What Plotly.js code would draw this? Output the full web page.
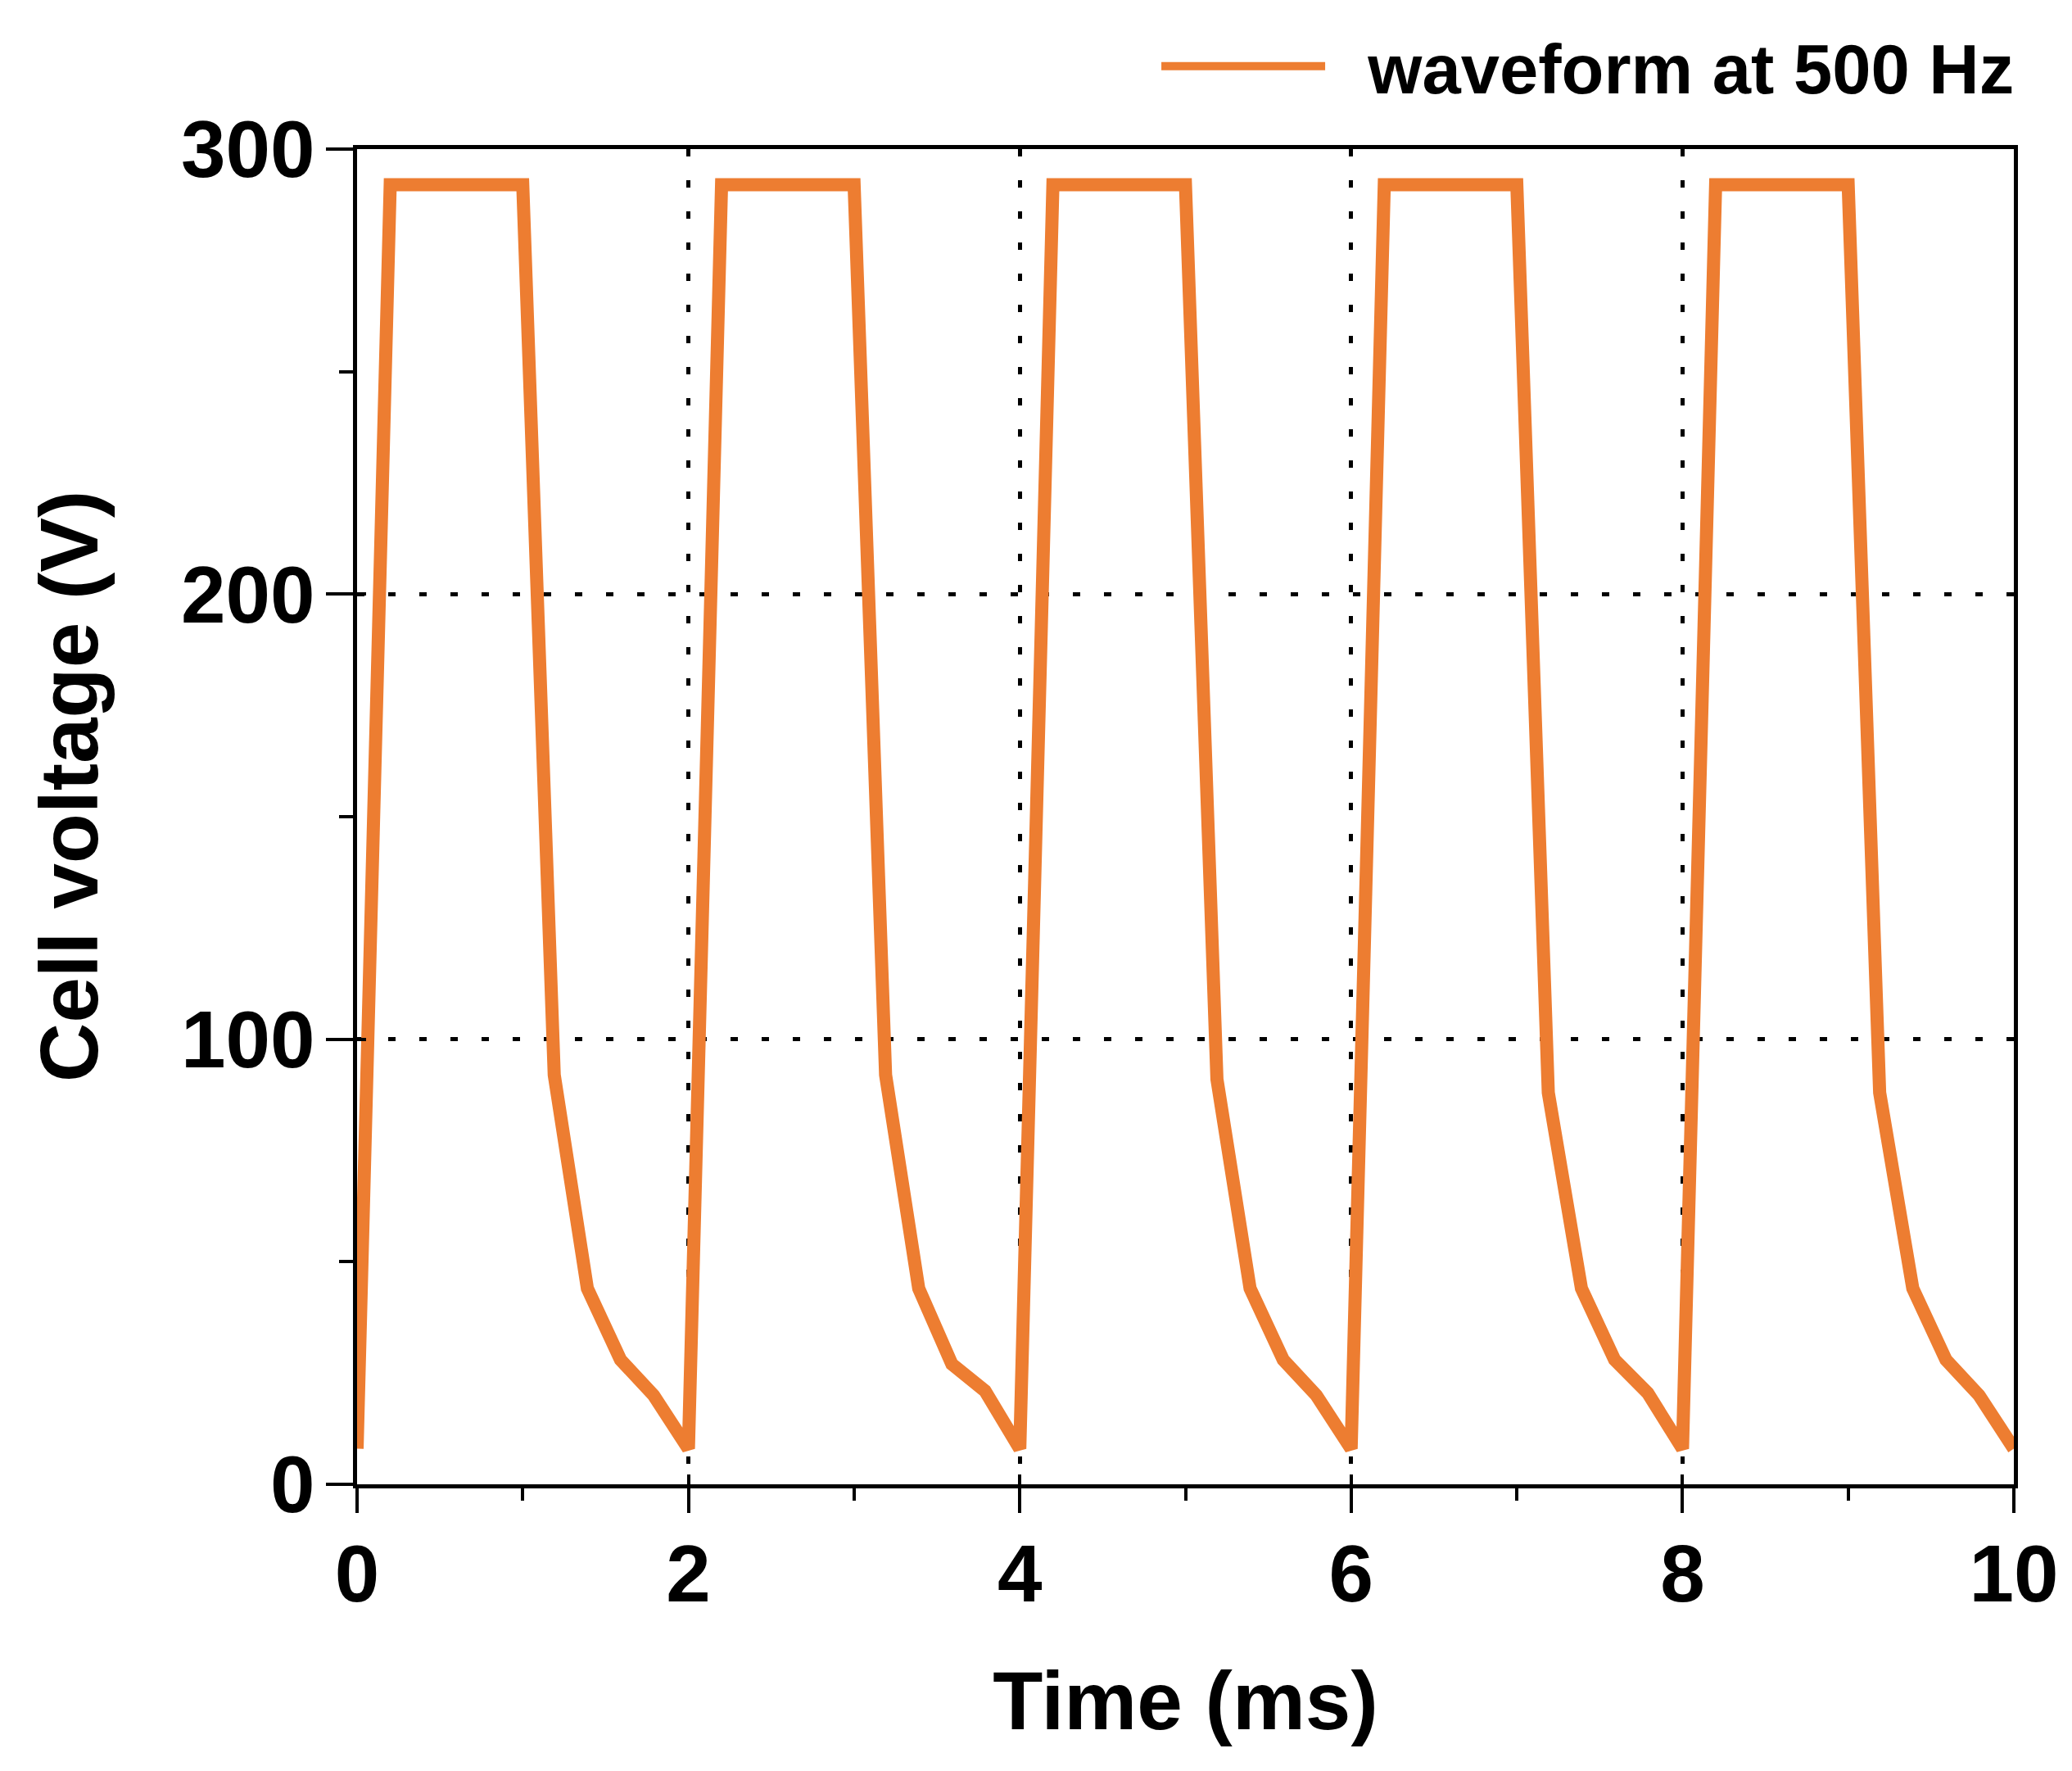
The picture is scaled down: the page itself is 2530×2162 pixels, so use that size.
<!DOCTYPE html>
<html>
<head>
<meta charset="utf-8">
<script src="https://cdn.plot.ly/plotly-3.0.1.min.js"></script>
<style>html,body{margin:0;padding:0;background:#fff;}#chart{width:2530px;height:2162px;}</style>
</head>
<body>
<div id="chart"></div>
<script>
// Time (ms) and cell voltage (V)
const timeMs = [0, 0.2, 1.0, 1.19, 1.39, 1.59, 1.79, 2.0,
                2.2, 3.0, 3.19, 3.39, 3.59, 3.79, 4.0,
                4.2, 5.0, 5.19, 5.39, 5.59, 5.79, 6.0,
                6.2, 7.0, 7.19, 7.39, 7.59, 7.79, 8.0,
                8.2, 9.0, 9.19, 9.39, 9.59, 9.79, 10.0];
const cellVoltage = [8, 292, 292, 92, 44, 28, 20, 8,
                     292, 292, 92, 44, 27, 21, 8,
                     292, 292, 91, 44, 28, 20, 8,
                     292, 292, 88, 44, 28, 20.5, 8,
                     292, 292, 88, 44, 28, 20, 8];
const seriesName = "waveform at 500 Hz";
const xTickVals = [0, 2, 4, 6, 8, 10];
const yTickVals = [0, 100, 200, 300];
const xTitle = "Time (ms)";
const yTitle = "Cell voltage (V)";

const FONT = "'Liberation Sans', Arial, sans-serif";
const ORANGE = "#ED7D31";

const traces = [
  {
    x: timeMs, y: cellVoltage, type: "scatter", mode: "lines",
    name: "\u00A0\u00A0" + seriesName,
    line: {color: ORANGE, width: 16},
    hoverinfo: "skip"
  },
  {
    x: [], y: [], type: "scatter", mode: "lines",
    xaxis: "x2", yaxis: "y2", showlegend: false, hoverinfo: "skip"
  }
];

const layout = {
  width: 2530, height: 2162,
  margin: {l: 436, r: 71, t: 182, b: 350, pad: 0},
  paper_bgcolor: "#fff", plot_bgcolor: "#fff",
  font: {family: FONT, color: "#000", weight: "bold"},
  showlegend: true,
  legend: {
    x: 1.003, xanchor: "right", y: 1.062, yanchor: "middle",
    orientation: "h",
    font: {family: FONT, size: 85, color: "#000", weight: "bold"},
    itemwidth: 200, bgcolor: "rgba(0,0,0,0)", borderwidth: 0
  },
  xaxis: {
    range: [0, 10], tickmode: "array", tickvals: xTickVals,
    ticktext: xTickVals.map(String),
    ticks: "outside", ticklen: 30, tickwidth: 4, tickcolor: "#000",
    minor: {dtick: 1, ticks: "outside", ticklen: 15, tickwidth: 4, tickcolor: "#000", showgrid: false},
    showline: true, linewidth: 5, linecolor: "#000", mirror: true,
    showgrid: true, gridcolor: "#000", gridwidth: 5, griddash: "9px,29px",
    zeroline: false, ticklabelstandoff: -10,
    tickfont: {family: FONT, size: 98, color: "#000", weight: "bold"},
    title: {text: xTitle, standoff: 68, font: {family: FONT, size: 100, color: "#000", weight: "bold"}},
    fixedrange: true
  },
  yaxis: {
    range: [0, 300], tickmode: "array", tickvals: yTickVals,
    ticktext: yTickVals.map(String),
    ticks: "outside", ticklen: 33, tickwidth: 4, tickcolor: "#000",
    minor: {dtick: 50, ticks: "outside", ticklen: 17, tickwidth: 4, tickcolor: "#000", showgrid: false},
    showline: true, linewidth: 5, linecolor: "#000", mirror: true,
    showgrid: true, gridcolor: "#000", gridwidth: 5, griddash: "9px,29px",
    zeroline: false, ticklabelstandoff: -6,
    tickfont: {family: FONT, size: 98, color: "#000", weight: "bold"},
    fixedrange: true
  },
  xaxis2: {
    overlaying: "x", anchor: "y2", side: "bottom", range: [0, 10],
    tickmode: "array", tickvals: xTickVals, showticklabels: false,
    ticks: "inside", ticklen: 12, tickwidth: 4, tickcolor: "#000",
    showline: false, showgrid: false, zeroline: false, fixedrange: true
  },
  yaxis2: {
    overlaying: "y", anchor: "x2", side: "left", range: [0, 300],
    tickmode: "array", tickvals: yTickVals, showticklabels: false,
    ticks: "inside", ticklen: 11, tickwidth: 4, tickcolor: "#000",
    showline: false, showgrid: false, zeroline: false, fixedrange: true
  },
  annotations: [{
    text: yTitle, textangle: -90, showarrow: false,
    xref: "paper", yref: "paper", x: (84 - 436) / 2023, y: 0.5227,
    xanchor: "center", yanchor: "middle",
    font: {family: FONT, size: 100, color: "#000", weight: "bold"}
  }]
};

Plotly.newPlot("chart", traces, layout, {displayModeBar: false, staticPlot: true});
</script>
</body>
</html>
